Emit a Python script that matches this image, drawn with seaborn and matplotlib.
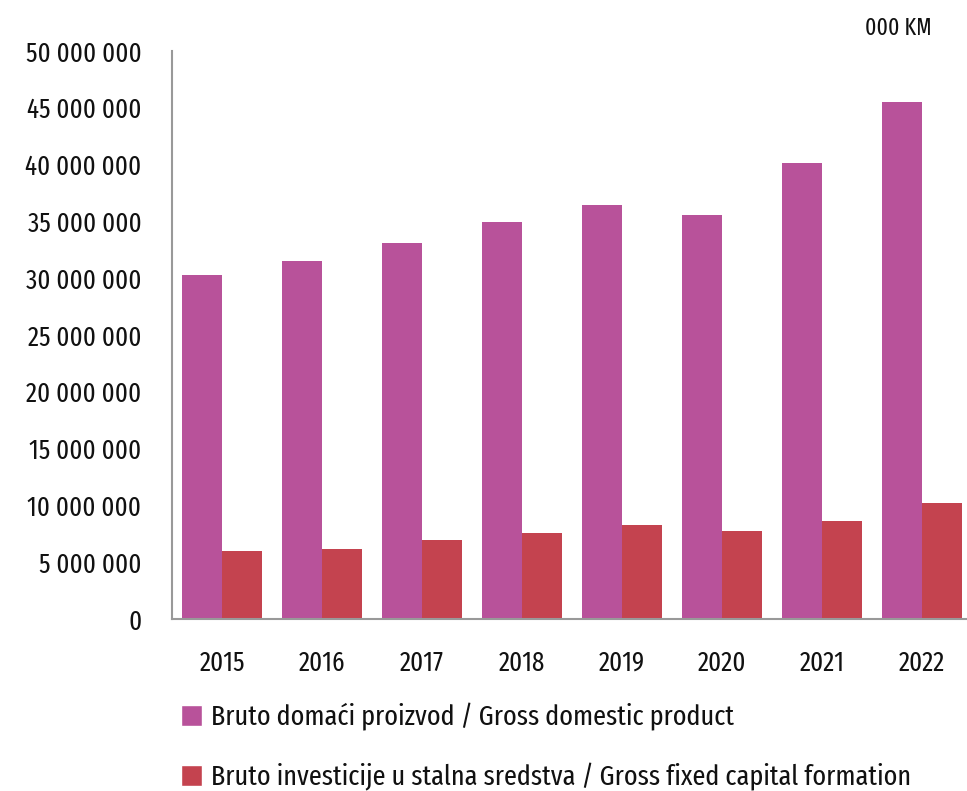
"""
BDP i bruto investicije u stalna sredstva, 2015-2022 (000 KM)
"""

import pandas as pd
import matplotlib.pyplot as plt
import matplotlib.ticker as mticker
from matplotlib.patches import Patch
import seaborn as sns

# Podaci
years = ['2015', '2016', '2017', '2018', '2019', '2020', '2021', '2022']
gdp = [30280000, 31510000, 33100000, 34950000, 36440000, 35560000, 40140000, 45510000]
gfcf = [5990000, 6160000, 6950000, 7570000, 8270000, 7750000, 8630000, 10210000]

series_names = ['Bruto domaći proizvod / Gross domestic product',
                'Bruto investicije u stalna sredstva / Gross fixed capital formation']
colors = ['#B8529A', '#C4434F']

df = pd.DataFrame({
    'year': years * 2,
    'value': gdp + gfcf,
    'series': [series_names[0]] * len(years) + [series_names[1]] * len(years),
})

sns.set_style('white')
plt.rcParams['font.family'] = ['Fira Sans Extra Condensed', 'DejaVu Sans']

fig = plt.figure(figsize=(9.67, 7.91), dpi=100)
ax = fig.add_axes([172 / 967, 1 - 619 / 791, 800 / 967, 568 / 791])

sns.barplot(data=df, x='year', y='value', hue='series', palette=colors,
            width=0.8, saturation=1, linewidth=0, ax=ax, legend=False)

ax.set_xlim(-0.5, 7.5)
ax.set_ylim(0, 50000000)
ax.yaxis.set_major_locator(mticker.MultipleLocator(5000000))
ax.yaxis.set_major_formatter(mticker.FuncFormatter(lambda v, p: f'{int(v):,}'.replace(',', ' ')))
ax.set_xlabel('')
ax.set_ylabel('')
ax.tick_params(axis='y', length=0, pad=22, labelsize=19.5, labelcolor='#111111')
ax.tick_params(axis='x', length=0, pad=22, labelsize=19.5, labelcolor='#111111')

for side in ['top', 'right']:
    ax.spines[side].set_visible(False)
for side in ['left', 'bottom']:
    ax.spines[side].set_color('#999999')
    ax.spines[side].set_linewidth(1.5)

fig.text(932 / 967, 1 - 28 / 791, '000 KM', ha='right', va='center', fontsize=17, color='#111111')

handles = [Patch(facecolor=c, label=n) for c, n in zip(colors, series_names)]
fig.legend(handles=handles, loc='upper left', bbox_to_anchor=(181 / 967, 1 - 703 / 791),
           frameon=False, fontsize=20.5, handlelength=0.72, handleheight=0.72,
           handletextpad=0.32, labelspacing=1.12, borderaxespad=0, borderpad=0,
           labelcolor='#111111')

fig.savefig('out.png', dpi=100)
